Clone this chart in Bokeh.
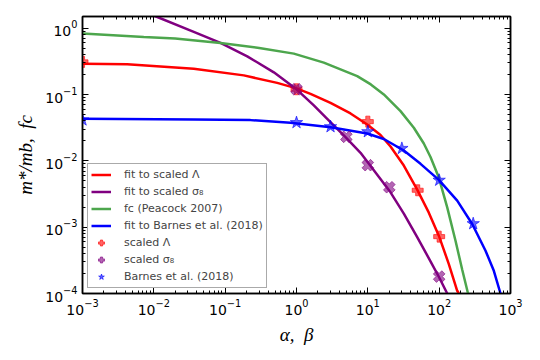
import math
from bokeh.plotting import figure
from bokeh.models import (LogAxis, FixedTicker, Legend, LegendItem)
from bokeh.embed import file_html
from bokeh.resources import INLINE

# ---------------- data ----------------
x_ticks = [1e-3, 1e-2, 1e-1, 1, 10, 100, 1000]
y_ticks = [1e-4, 1e-3, 1e-2, 1e-1, 1]

# fitted curves
fit_lambda_x = [0.001, 0.00423, 0.0363, 0.1825, 0.5365, 1.0, 1.572, 2.998, 5.716, 9.80,
                15.06, 20.8, 31.95, 49.2, 71.6, 98.9, 136.6, 179, 188.6]
fit_lambda_y = [0.2919, 0.2869, 0.2453, 0.1943, 0.1497, 0.1236, 0.1021, 0.07465, 0.0518, 0.03534,
                0.02453, 0.01644, 0.00849, 0.003686, 0.001656, 0.000744, 0.000278, 0.00011, 0.0001]

fit_sigma_x = [0.01033, 0.0363, 0.0860, 0.204, 0.481, 0.968, 1.749, 2.696, 4.865, 7.90,
               20.8, 31.96, 49.2, 75.6, 98.9, 129.7]
fit_sigma_y = [1.528, 0.882, 0.600, 0.376, 0.216, 0.1236, 0.0684, 0.0429, 0.0227, 0.0132,
               0.00335, 0.0016, 0.000706, 0.000306, 0.000179, 0.0001]

fc_x = [0.001, 0.00723, 0.01993, 0.0860, 0.2999, 0.917, 2.415, 7.097, 11.01, 16.75,
        28.72, 44.12, 60.93, 75.6, 98.9, 129.7, 169.5, 210.5, 253.8]
fc_y = [0.8288, 0.7363, 0.6964, 0.5974, 0.5022, 0.4133, 0.3022, 0.1897, 0.1421, 0.1003,
        0.05612, 0.03150, 0.01825, 0.01141, 0.005593, 0.001991, 0.000625, 0.000228, 0.0001]

fit_barnes_x = [0.001, 0.0363, 0.2266, 0.824, 3.01, 9.80, 16.75, 31.95, 54.8, 98.9,
                179, 290.6, 446.6, 583.9, 724]
fit_barnes_y = [0.0431, 0.0421, 0.0411, 0.0375, 0.0322, 0.02585, 0.02135, 0.0143, 0.00901, 0.00516,
                0.00251, 0.001118, 0.000442, 0.00022, 0.0001]

# data points
scaled_lambda_x = [0.001, 1, 10, 50, 100]
scaled_lambda_y = [0.31, 0.12, 0.039, 0.0036, 0.00072]

scaled_sigma_x = [1, 5, 10, 20, 100]
scaled_sigma_y = [0.12, 0.023, 0.0086, 0.0040, 0.00018]

barnes_x = [0.001, 1, 3, 10, 30, 100, 300]
barnes_y = [0.0414, 0.0377, 0.0327, 0.0275, 0.0154, 0.0051, 0.00113]

legend_labels = ["fit to scaled Λ", "fit to scaled σ₈", "fc (Peacock 2007)",
                 "fit to Barnes et al. (2018)", "scaled Λ", "scaled σ₈", "Barnes et al. (2018)"]
x_title = "α,\u00a0\u00a0β"
y_title = "m*/mb,\u00a0\u00a0fc"

# ---------------- figure ----------------
X0, X1 = 1e-3, 1e3
Y0, Y1 = 1e-4, 1.5
W, H = 540, 360
BL, BR, BT, BB = 82, 30, 16, 67

p = figure(width=W, height=H, x_axis_type="log", y_axis_type="log",
           x_range=(X0, X1), y_range=(Y0, Y1),
           output_backend="svg", toolbar_location=None,
           min_border_left=BL, min_border_right=BR, min_border_top=BT, min_border_bottom=BB)
p.grid.visible = False
p.outline_line_color = "black"
p.outline_line_width = 1.5
p.background_fill_color = "white"
p.border_fill_color = "white"

x_minor = [m * 10.0 ** k for k in range(-3, 3) for m in range(2, 10)]
y_minor = [m * 10.0 ** k for k in range(-4, 1) for m in range(2, 10)]


def style_axis(ax, show_labels):
    ax.axis_line_color = "black"
    ax.axis_line_width = 1.5
    ax.major_tick_in = 6
    ax.major_tick_out = 0
    ax.minor_tick_in = 3
    ax.minor_tick_out = 0
    ax.major_tick_line_color = "black"
    ax.minor_tick_line_color = "black"
    if show_labels:
        ax.major_label_text_font = "DejaVu Sans"
        ax.major_label_text_font_size = "14px"
        ax.major_label_text_font_style = "normal"
        ax.major_label_text_color = "black"
        ax.major_label_standoff = 5
        ax.axis_label_text_font = "Liberation Serif"
        ax.axis_label_text_font_style = "italic"
        ax.axis_label_text_font_size = "19px"
        ax.axis_label_text_color = "black"
    else:
        ax.major_label_text_font_size = "1px"
        ax.major_label_text_alpha = 0.0
        ax.major_label_standoff = 0


p.xaxis.ticker = FixedTicker(ticks=x_ticks, minor_ticks=x_minor)
p.yaxis.ticker = FixedTicker(ticks=y_ticks, minor_ticks=y_minor)
style_axis(p.xaxis[0], True)
style_axis(p.yaxis[0], True)
p.xaxis.axis_label = x_title
p.yaxis.axis_label = y_title
p.xaxis.axis_label_standoff = 6
p.yaxis.axis_label_standoff = 6

top_ax = LogAxis(ticker=FixedTicker(ticks=x_ticks, minor_ticks=x_minor))
right_ax = LogAxis(ticker=FixedTicker(ticks=y_ticks, minor_ticks=y_minor))
style_axis(top_ax, False)
style_axis(right_ax, False)
p.add_layout(top_ax, "above")
p.add_layout(right_ax, "right")

LW = 2.5
r1 = p.line(fit_lambda_x, fit_lambda_y, line_color="#ff0000", line_width=LW)
r2 = p.line(fit_sigma_x, fit_sigma_y, line_color="#800080", line_width=LW)
r3 = p.line(fc_x, fc_y, line_color="#4da64d", line_width=LW)
r4 = p.line(fit_barnes_x, fit_barnes_y, line_color="#0000ff", line_width=LW)

r5 = p.scatter(scaled_lambda_x, scaled_lambda_y, marker="plus", size=11,
               fill_color="#ff0000", line_color="#ff0000", fill_alpha=0.6, line_alpha=0.6)
r6 = p.scatter(scaled_sigma_x, scaled_sigma_y, marker="plus", size=12, angle=math.pi / 4,
               fill_color="#800080", line_color="#800080", fill_alpha=0.6, line_alpha=0.6)
r7 = p.scatter(barnes_x, barnes_y, marker="star", size=13,
               fill_color="#0000ff", line_color="#0000ff", fill_alpha=0.6, line_alpha=0.6)

legend = Legend(items=[LegendItem(label=lab, renderers=[r]) for lab, r in
                       zip(legend_labels, [r1, r2, r3, r4, r5, r6, r7])],
                location="bottom_left", margin=5, padding=3, spacing=2,
                glyph_width=20, glyph_height=15, label_height=15, label_standoff=13,
                label_text_font="DejaVu Sans", label_text_font_size="11px",
                border_line_color="#555555", border_line_width=1,
                background_fill_color="white", background_fill_alpha=1.0)
p.add_layout(legend)

open("out.html", "w").write(file_html(p, INLINE))
